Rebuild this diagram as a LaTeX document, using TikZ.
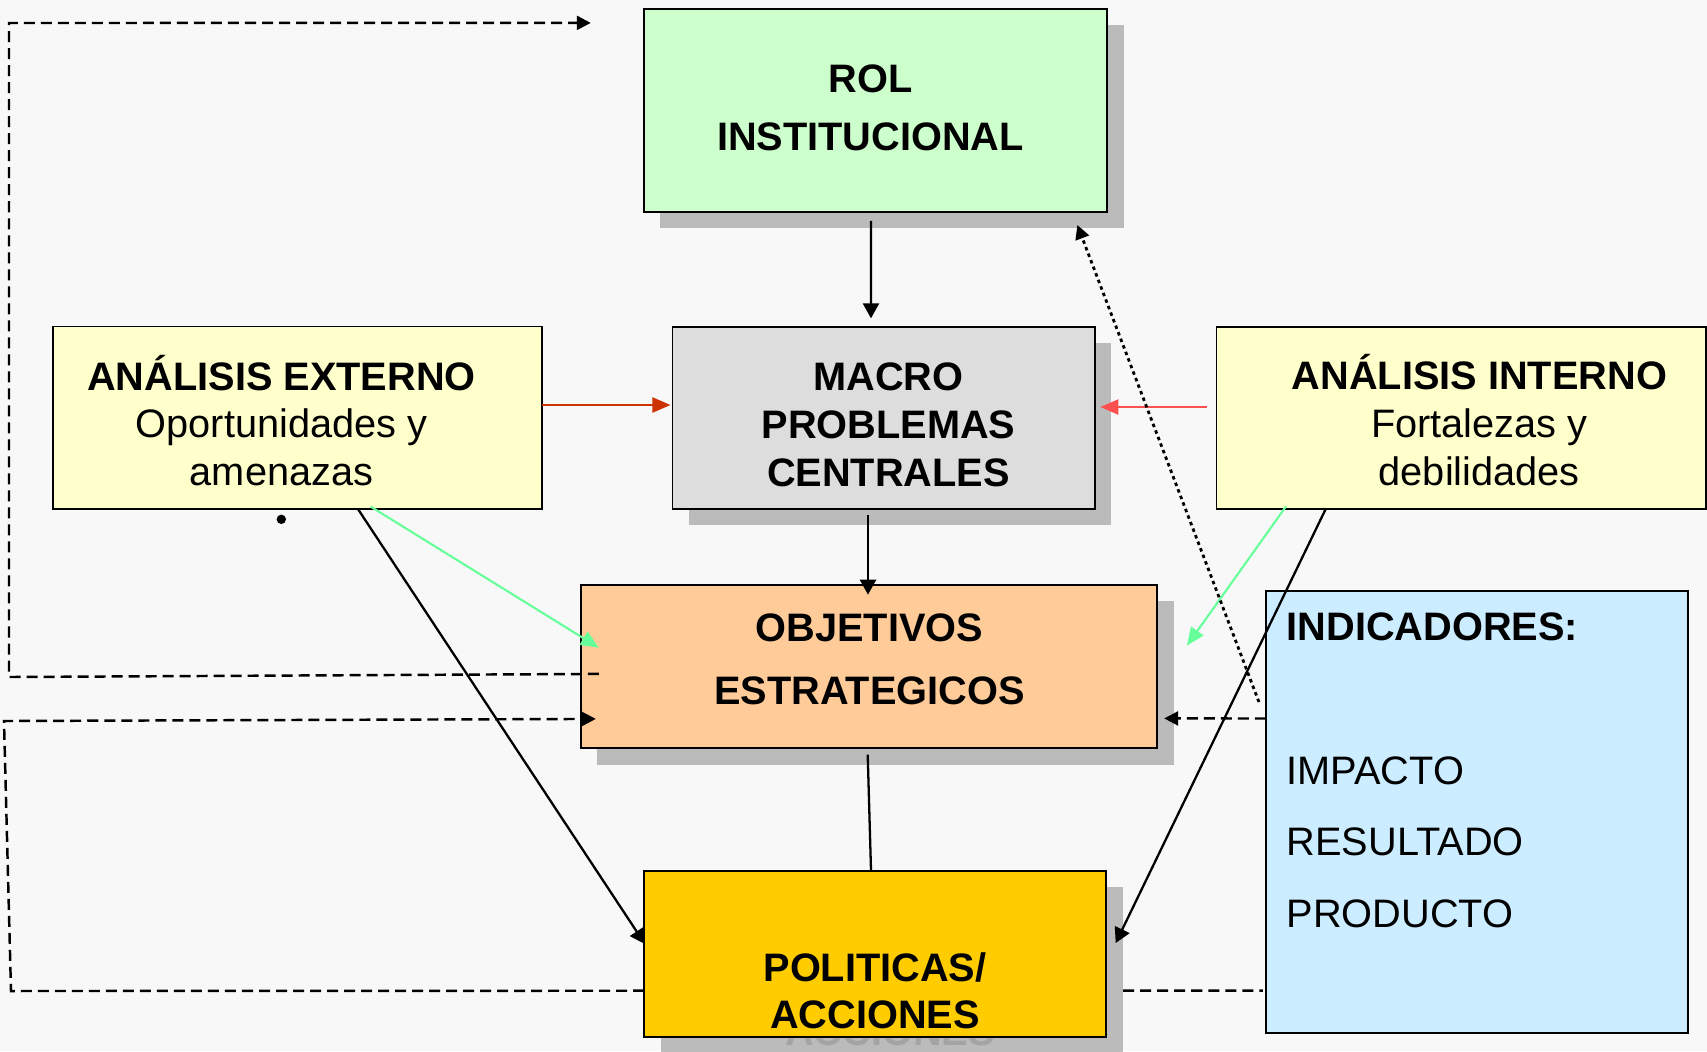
\documentclass[tikz,border=0pt]{standalone}
\usepackage{fontspec}
\setmainfont{Liberation Sans}
\usetikzlibrary{arrows.meta,calc,shadows}

\definecolor{fondo}{HTML}{F8F8F8}
\definecolor{sombra}{HTML}{BBBBBB}
\definecolor{sombratexto}{HTML}{A4A4A4}
\definecolor{verdeclaro}{HTML}{CCFFCC}
\definecolor{grisclaro}{HTML}{DDDDDD}
\definecolor{amarilloclaro}{HTML}{FFFFCC}
\definecolor{naranjaclaro}{HTML}{FFCC99}
\definecolor{celeste}{HTML}{CCECFF}
\definecolor{dorado}{HTML}{FFCC00}
\definecolor{rojoext}{HTML}{CC3300}
\definecolor{rojoint}{HTML}{FF5050}
\definecolor{verdeflecha}{HTML}{66FF99}

\begin{document}
\begin{tikzpicture}[x=0.01cm, y=-0.01cm,
		every node/.style = {inner sep=0pt, outer sep=0pt},
		caja/.style = {shape=rectangle, draw=black, line width=0.5pt},
		sombreada/.style = {caja, drop shadow={shadow xshift=0.165cm,
			shadow yshift=-0.165cm, fill=sombra, opacity=1}},
		texto/.style = {font=\fontsize{11.3}{#1}\selectfont, align=center, anchor=base},
		texto/.default = 13.6,
		titulo/.style = {font=\fontsize{11.3}{#1}\selectfont\bfseries, align=center, anchor=base},
		flecha/.style = {line width=0.65pt, -{Triangle[length=0.15cm, width=0.16cm]}},
		flechacolor/.style = {line width=0.6pt, draw=#1, -{Triangle[length=0.18cm, width=0.15cm, fill=#1]}},
		discontinua/.style = {line width=0.7pt, dash pattern=on 0.11cm off 0.06cm},
		punteada/.style = {line width=0.8pt, dash pattern=on 0.035cm off 0.035cm},
		punta/.style = {-{Triangle[length=0.14cm, width=0.14cm]}}]

	\path[use as bounding box, fill=fondo] (0,0) rectangle (1707,1051);

	\node[sombreada, fill=verdeclaro, minimum width=4.63cm, minimum height=2.03cm] (rol) at (875.4,110.4) {};
	\node[titulo=16.4] (roltexto) at (870.5,150) {ROL\\INSTITUCIONAL};

	\node[sombreada, fill=grisclaro, minimum width=4.22cm, minimum height=1.82cm] (macro) at (883.6,417.9) {};
	\node[titulo=13.7] (macrotexto) at (888.5,486.6) {MACRO\\PROBLEMAS\\CENTRALES};

	\node[caja, fill=amarilloclaro, minimum width=4.89cm, minimum height=1.825cm] (externo) at (297.5,417.8) {};
	\node[texto] (externotexto) at (281.5,485.7) {\textbf{ANÁLISIS EXTERNO}\\Oportunidades y\\amenazas};

	\node[caja, fill=amarilloclaro, minimum width=4.89cm, minimum height=1.826cm] (interno) at (1461.2,418) {};
	\node[texto] (internotexto) at (1479.3,485.3) {\textbf{ANÁLISIS INTERNO}\\Fortalezas y\\debilidades};

	\node[sombreada, fill=naranjaclaro, minimum width=5.76cm, minimum height=1.633cm] (objetivos) at (869,666.4) {};
	\node[titulo=17.7] (objetivostexto) at (869.3,704) {OBJETIVOS\\ESTRATEGICOS};

	\node[caja, fill=celeste, minimum width=4.217cm, minimum height=4.42cm] (indicadores) at (1476.9,812) {};
	\node[texto=20.4, align=left, anchor=base west] (indicadorestexto) at (1286.7,927.7)
		{\textbf{INDICADORES:}\\[20.4pt]IMPACTO\\RESULTADO\\PRODUCTO};

	\node[fill=sombra, minimum width=4.617cm, minimum height=1.66cm] (politicassombra) at (891.7,970.2) {};
	\node[titulo=13.4, text=sombratexto] (politicasfantasma) at (890,1045.5) {POLITICAS/\\ACCIONES};
	\node[caja, fill=dorado, minimum width=4.617cm, minimum height=1.66cm] (politicas) at (875.2,953.7) {};
	\node[titulo=13.4] (politicastexto) at (875,1028.3) {POLITICAS/\\ACCIONES};

	\fill (281.3,519.3) circle [radius=0.047cm];

	\draw[flecha] ($(rol.south)+(-4.5,9)$) -- ($(macro.north)+(-12.6,-8.5)$);
	\draw[flecha] ($(macro.south)+(-15.6,6)$) -- ($(objetivos.north)+(-1,10)$);
	\draw[line width=0.65pt] ($(objetivos.south)+(-1.3,6.5)$) -- ($(politicas.north)+(-4.2,0)$);
	\draw[flechacolor=rojoext] ($(externo.east)+(0,-12.8)$) -- ($(macro.west)+(-2,-12.9)$);
	\draw[flechacolor=rojoint] ($(interno.west)+(-9.7,-11)$) -- ($(macro.east)+(5.6,-10.9)$);
	\draw[flechacolor=verdeflecha] ($(externo.south)+(73.2,-2.5)$) -- ($(objetivos.west)+(18,-18.7)$);
	\draw[flechacolor=verdeflecha] ($(interno.south)+(-175.2,-3)$) -- ($(objetivos.east)+(29.7,-20.8)$);
	\draw[flecha] ($(externo.south)+(60.5,0)$) -- ($(politicas.west)+(0.7,-9.7)$);
	\draw[flecha] ($(interno.south)+(-135.2,-1)$) -- ($(politicas.east)+(9.5,-10.7)$);
	\draw[punteada, punta] ($(indicadores.west)+(-7,-110)$) -- ($(rol.south east)+(-29.7,13)$);
	\draw[discontinua, punta] ($(indicadores.west)+(0,-93.5)$) -- ($(objetivos.east)+(7,52)$);
	\draw[discontinua] ($(politicas.east)+(17,37)$) -- ($(indicadores.west)+(-3,178.5)$);
	\draw[discontinua, punta] ($(politicas.west)+(0,37)$) -- (11,991) -- (4,721)
		-- ($(objetivos.west)+(15,52.5)$);
	\draw[discontinua, punta] ($(objetivos.west)+(18,7.5)$) -- (9,677) -- (9,23)
		-- ($(rol.west)+(-53,-87.5)$);
\end{tikzpicture}
\end{document}
